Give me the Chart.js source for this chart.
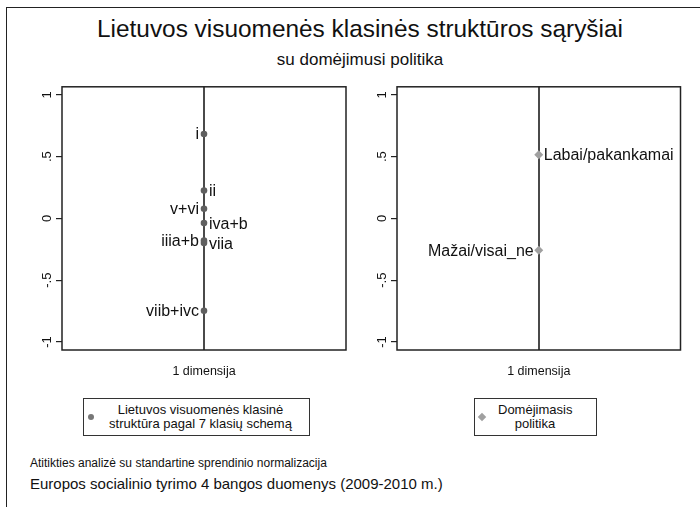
<!DOCTYPE html>
<html><head><meta charset="utf-8">
<script src="https://cdn.jsdelivr.net/npm/chart.js@4/dist/chart.umd.min.js"></script>
<style>
html,body{margin:0;padding:0;background:#fff;width:700px;height:507px;overflow:hidden;font-family:"Liberation Sans",Arial,sans-serif;color:#111}
.abs{position:absolute;white-space:nowrap}
#frame{position:absolute;left:6px;top:7px;width:730px;height:530px;border:1.5px solid #222;box-sizing:border-box}
#title{left:6px;width:708px;top:17px;text-align:center;font-size:24.4px;line-height:24px}
#subtitle{left:6px;width:708px;top:51px;text-align:center;font-size:17px;line-height:17px}
canvas{position:absolute}
.legbox{position:absolute;border:1px solid #333;box-sizing:border-box;top:398px;height:38px}
.legtext{position:absolute;top:403px;text-align:center;font-size:13px;line-height:14px;white-space:nowrap}
#f1{left:30px;top:457px;font-size:12px;line-height:12px}
#f2{left:30px;top:476px;font-size:15px;line-height:15px}
</style></head>
<body>
<div id="frame"></div>
<div id="title" class="abs">Lietuvos visuomenės klasinės struktūros sąryšiai</div>
<div id="subtitle" class="abs">su domėjimusi politika</div>
<canvas id="c1" width="340" height="312" style="left:10px;top:78px"></canvas>
<canvas id="c2" width="340" height="312" style="left:345px;top:78px"></canvas>

<div class="legbox" style="left:83px;width:227px"></div>
<div class="abs" style="left:88px;top:414px;width:6px;height:6px;border-radius:50%;background:#777"></div>
<div class="legtext" style="left:108px;width:185px">Lietuvos visuomenės klasinė<br>struktūra pagal 7 klasių schemą</div>

<div class="legbox" style="left:474px;width:123px"></div>
<div class="abs" style="left:479px;top:414px;width:6px;height:6px;transform:rotate(45deg);background:#a0a0a0"></div>
<div class="legtext" style="left:498px;width:74px">Domėjimasis<br>politika</div>

<div id="f1" class="abs">Atitikties analizė su standartine sprendinio normalizacija</div>
<div id="f2" class="abs">Europos socialinio tyrimo 4 bangos duomenys (2009-2010 m.)</div>

<script>
// ---- data ----
const classLabels = ['i', 'ii', 'v+vi', 'iva+b', 'iiia+b', 'viia', 'viib+ivc'];
const classDim1 = [0.683, 0.226, 0.078, -0.038, -0.18, -0.20, -0.747];
const classLabelSide = ['left', 'right', 'left', 'right', 'left', 'right', 'left'];
const interestLabels = ['Labai/pakankamai', 'Mažai/visai_ne'];
const interestDim1 = [0.516, -0.258];
const interestLabelSide = ['right', 'left'];
const yTickValues = [-1, -0.5, 0, 0.5, 1];
const yTickLabels = ['-1', '-.5', '0', '.5', '1'];
const xAxisTitle = '1 dimensija';

const FONT = '"Liberation Sans", Arial, sans-serif';

const framePlugin = {
  id: 'plotFrame',
  afterDraw(chart) {
    const {ctx, chartArea: a} = chart;
    ctx.save();
    ctx.strokeStyle = '#222';
    ctx.lineWidth = 1.5;
    ctx.strokeRect(a.left, a.top, a.right - a.left, a.bottom - a.top);
    ctx.restore();
  }
};

const labelPlugin = {
  id: 'markLabels',
  afterDatasetsDraw(chart, args, opts) {
    const {ctx} = chart;
    const meta = chart.getDatasetMeta(0);
    ctx.save();
    ctx.font = '16px ' + FONT;
    ctx.fillStyle = '#111';
    ctx.textBaseline = 'middle';
    meta.data.forEach((el, i) => {
      const side = opts.sides[i];
      if (side === 'right') {
        ctx.textAlign = 'left';
        ctx.fillText(opts.labels[i], el.x + 5, el.y + 1);
      } else {
        ctx.textAlign = 'right';
        ctx.fillText(opts.labels[i], el.x - 5, el.y + 1);
      }
    });
    ctx.restore();
  }
};

function makeChart(id, values, labels, sides, color, style, radius) {
  return new Chart(document.getElementById(id), {
    type: 'scatter',
    data: {
      datasets: [{
        data: values.map(v => ({x: 0, y: v})),
        backgroundColor: color,
        borderColor: color,
        borderWidth: 0,
        pointStyle: style,
        pointRadius: radius,
        pointHoverRadius: radius
      }]
    },
    options: {
      responsive: false,
      animation: false,
      devicePixelRatio: 1,
      layout: {padding: {top: 8, right: 4, left: 0, bottom: 0}},
      plugins: {
        legend: {display: false},
        tooltip: {enabled: false},
        markLabels: {labels: labels, sides: sides}
      },
      scales: {
        x: {
          type: 'linear', min: -1, max: 1,
          ticks: {display: false, stepSize: 1},
          grid: {
            drawTicks: false,
            color: c => (c.tick && c.tick.value === 0) ? '#4a4a4a' : 'rgba(0,0,0,0)',
            lineWidth: 2
          },
          border: {display: false},
          title: {display: true, text: xAxisTitle, color: '#111',
                  font: {family: FONT, size: 12.5}, padding: {top: 0, bottom: 11}},
          afterFit: s => { s.height = 40; }
        },
        y: {
          type: 'linear', min: -1.065, max: 1.065,
          afterBuildTicks: s => { s.ticks = yTickValues.map(v => ({value: v})); },
          ticks: {
            minRotation: 90, maxRotation: 90, crossAlign: 'center', padding: 1,
            color: '#111', font: {family: FONT, size: 13},
            callback: v => yTickLabels[yTickValues.indexOf(v)]
          },
          grid: {drawOnChartArea: false, drawTicks: true, tickLength: 6, color: '#222', lineWidth: 1.2},
          border: {display: false},
          afterFit: s => { s.width = 52; }
        }
      }
    },
    plugins: [framePlugin, labelPlugin]
  });
}

makeChart('c1', classDim1, classLabels, classLabelSide, '#5f5f5f', 'circle', 3.3);
makeChart('c2', interestDim1, interestLabels, interestLabelSide, '#a0a0a0', 'rectRot', 4.5);
</script>
</body></html>
